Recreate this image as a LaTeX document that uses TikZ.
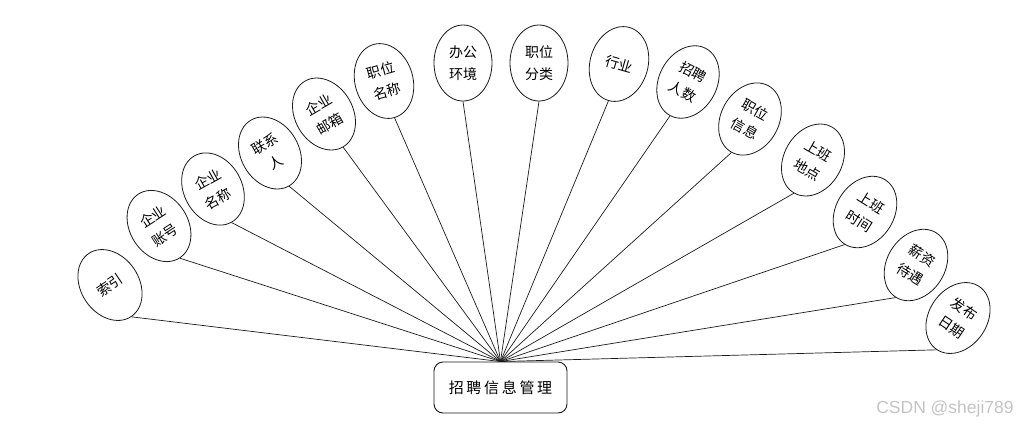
\documentclass[tikz,border=0pt]{standalone}
\usepackage{fontspec}
\usepackage{tikz}
\usetikzlibrary{shapes.geometric}
\newfontfamily\cjk{Noto Sans CJK SC}
\newfontfamily\cjkwide[LetterSpace=18]{Noto Sans CJK SC}
\newfontfamily\wmfont{Liberation Sans}
\definecolor{wmGray}{HTML}{c4c4c4}
\definecolor{lineBlk}{HTML}{1a1a1a}

\begin{document}
\begin{tikzpicture}[x=1pt, y=-1pt, attr/.style={draw=lineBlk, ellipse, line width=0.8pt, minimum width=58pt, minimum height=76pt, inner sep=0pt, align=center, font=\cjk\fontsize{14}{22}\selectfont}, lnk/.style={draw=lineBlk, line width=0.7pt}]
\useasboundingbox (0,0) rectangle (1023,426);
\node[draw=lineBlk, line width=0.9pt, rounded corners=9pt, minimum width=133pt, minimum height=51pt, inner sep=0pt, font=\cjkwide\fontsize{15}{18}\selectfont] (mgr) at (500.5,387.5) {招聘信息管理};
\node[attr, rotate=34] (idx) at (110,285) {索引};
\node[attr, rotate=33] (acct) at (159,226) {企业\\账号};
\node[attr, rotate=29] (cname) at (213,189) {企业\\名称};
\node[attr, rotate=30] (contact) at (270,153) {联系\\人};
\node[attr, rotate=30] (mail) at (324,114) {企业\\邮箱};
\node[attr, rotate=16] (jname) at (384,81) {职位\\名称};
\node[attr] (office) at (463,63) {办公\\环境};
\node[attr] (jcat) at (539,63) {职位\\分类};
\node[attr, rotate=-16] (trade) at (619,64) {行业};
\node[attr, rotate=-28] (hcount) at (688,82) {招聘\\人数};
\node[attr, rotate=-29] (jinfo) at (750,119) {职位\\信息};
\node[attr, rotate=-30] (place) at (813,160) {上班\\地点};
\node[attr, rotate=-32] (hours) at (865,212) {上班\\时间};
\node[attr, rotate=-32] (salary) at (916,265) {薪资\\待遇};
\node[attr, rotate=-34] (pdate) at (958,318) {发布\\日期};
\draw[lnk] (idx.south) -- (mgr.north);
\draw[lnk] (acct.south) -- (mgr.north);
\draw[lnk] (cname.south) -- (mgr.north);
\draw[lnk] (contact.south) -- (mgr.north);
\draw[lnk] (mail.south) -- (mgr.north);
\draw[lnk] (jname.south) -- (mgr.north);
\draw[lnk] (office.south) -- (mgr.north);
\draw[lnk] (jcat.south) -- (mgr.north);
\draw[lnk] (trade.south) -- (mgr.north);
\draw[lnk] (hcount.south) -- (mgr.north);
\draw[lnk] (jinfo.south) -- (mgr.north);
\draw[lnk] (place.south) -- (mgr.north);
\draw[lnk] (hours.south) -- (mgr.north);
\draw[lnk] (salary.south) -- (mgr.north);
\draw[lnk] (pdate.south) -- (mgr.north);
\node[font=\wmfont\fontsize{17.5}{20}\selectfont, text=wmGray] (wm) at (945,409) {CSDN @sheji789};
\end{tikzpicture}
\end{document}
